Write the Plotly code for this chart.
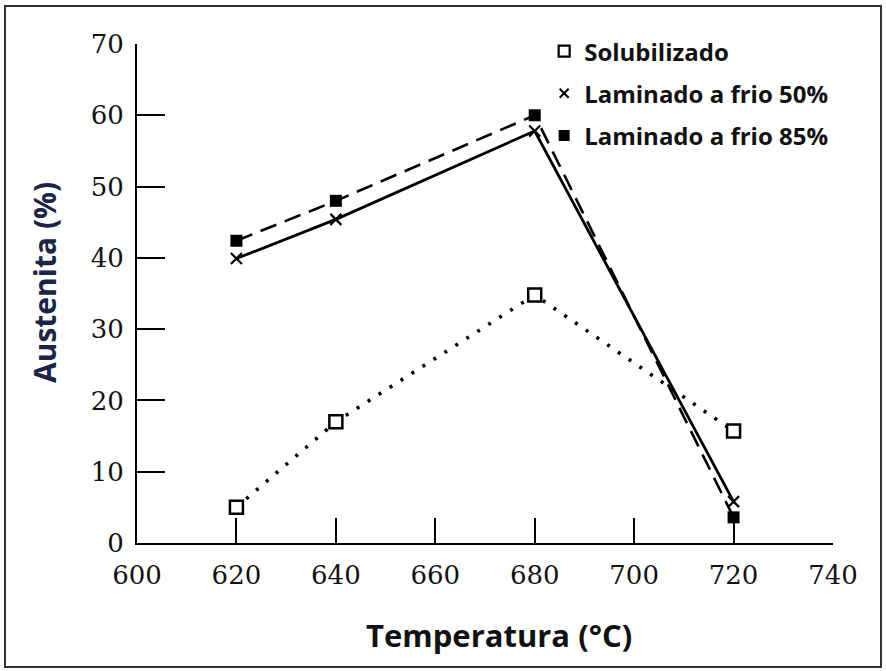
import plotly.graph_objects as go

temps = [620, 640, 680, 720]
solubilizado = [5.0, 17.0, 34.8, 15.7]
laminado_50 = [39.9, 45.4, 57.8, 5.8]
laminado_85 = [42.4, 48.0, 60.0, 3.6]

x_ticks = [600, 620, 640, 660, 680, 700, 720, 740]
y_ticks = [0, 10, 20, 30, 40, 50, 60, 70]

series_names = ["Solubilizado", "Laminado a frio 50%", "Laminado a frio 85%"]

fig = go.Figure()

# data traces (no legend)
fig.add_trace(go.Scatter(
    x=temps, y=solubilizado, mode="lines+markers", showlegend=False,
    line=dict(color="black", width=3.6, dash="3px,10px"),
    marker=dict(symbol="square", size=13, color="white", line=dict(color="black", width=2.5)),
))
fig.add_trace(go.Scatter(
    x=temps, y=laminado_50, mode="lines+markers", showlegend=False,
    line=dict(color="black", width=2.8),
    marker=dict(symbol="x-thin-open", size=11, color="black", line=dict(color="black", width=2.2)),
))
fig.add_trace(go.Scatter(
    x=temps, y=laminado_85, mode="lines+markers", showlegend=False,
    line=dict(color="black", width=2.6, dash="17px,9px"),
    marker=dict(symbol="square", size=12, color="black"),
))

# legend entries (markers only)
legend_markers = [
    dict(symbol="square", size=11, color="white", line=dict(color="black", width=2.2)),
    dict(symbol="x-thin-open", size=9, color="black", line=dict(color="black", width=2)),
    dict(symbol="square", size=11, color="black"),
]
for i, (nm, mk) in enumerate(zip(series_names, legend_markers)):
    fig.add_trace(go.Scatter(
        x=[None], y=[None], mode="markers", name=f"<b>{nm}</b>", marker=mk,
        legendgroup=f"g{i}", showlegend=True,
    ))

axis_common = dict(
    showline=True, linecolor="black", linewidth=2,
    ticks="inside", tickcolor="black", tickwidth=2,
    showgrid=False, zeroline=False,
    tickfont=dict(family="DejaVu Serif", size=26, color="#111"),
)

fig.update_xaxes(range=[600, 740], tickvals=x_ticks, ticklen=25,
                 ticklabelstandoff=8, **axis_common)
fig.update_yaxes(range=[0, 70], tickvals=y_ticks, ticklen=28,
                 ticklabelstandoff=6, **axis_common)

fig.update_layout(
    width=886, height=671,
    margin=dict(l=137, r=53, t=44, b=128),
    paper_bgcolor="white", plot_bgcolor="white",
    legend=dict(
        x=0.585, y=1.03, xanchor="left", yanchor="top",
        font=dict(family="Open Sans", size=24, color="#111"),
        bgcolor="rgba(0,0,0,0)", tracegroupgap=8, itemwidth=30,
    ),
    annotations=[
        dict(text="<b>Temperatura (°C)</b>", xref="paper", yref="paper",
             x=(499 - 137) / 696, y=(543 - 635) / 499, xanchor="center", yanchor="middle",
             showarrow=False, font=dict(family="Open Sans", size=31, color="#111")),
        dict(text="<b>Austenita (%)</b>", xref="paper", yref="paper",
             x=(44 - 137) / 696, y=(543 - 283) / 499, xanchor="center", yanchor="middle",
             textangle=-90, showarrow=False,
             font=dict(family="Open Sans", size=30, color="#1c2545")),
    ],
    shapes=[
        dict(type="rect", xref="paper", yref="paper",
             x0=(5 - 137) / 696, x1=(881 - 137) / 696,
             y0=(543 - 667) / 499, y1=(543 - 6) / 499,
             line=dict(color="#333", width=2), fillcolor="rgba(0,0,0,0)", layer="below"),
    ],
)

fig.write_html("out.html")
